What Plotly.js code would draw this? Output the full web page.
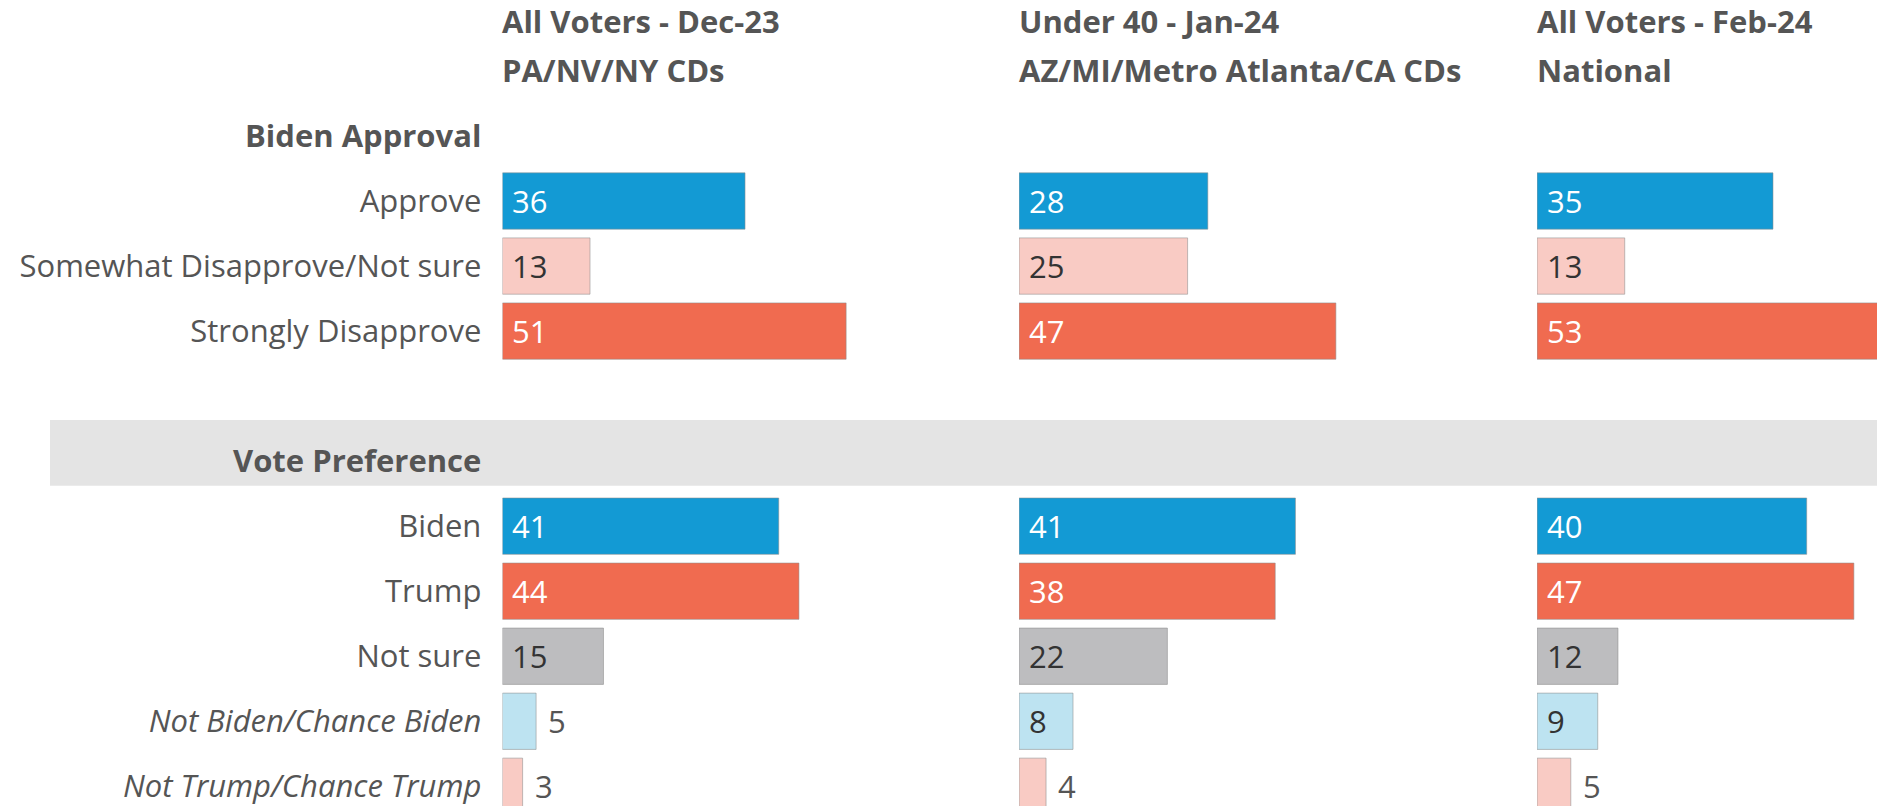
<!DOCTYPE html>
<html>
<head>
<meta charset="utf-8">
<script src="https://cdn.plot.ly/plotly-3.0.1.min.js"></script>
<style>html,body{margin:0;padding:0;background:#fff;}#chart{width:1877px;height:806px;}</style>
</head>
<body>
<div id="chart"></div>
<script>
// ---- data ----
const rowLabels = ["Biden Approval", "Approve", "Somewhat Disapprove/Not sure", "Strongly Disapprove", " ",
                   "Vote Preference", "Biden", "Trump", "Not sure", "Not Biden/Chance Biden", "Not Trump/Chance Trump"];
const sectionHeaders = ["Biden Approval", "Vote Preference"];
const italicRows = ["Not Biden/Chance Biden", "Not Trump/Chance Trump"];
const itemCategories = ["Approve", "Somewhat Disapprove/Not sure", "Strongly Disapprove",
                        "Biden", "Trump", "Not sure", "Not Biden/Chance Biden", "Not Trump/Chance Trump"];
const colTitles1 = ["All Voters - Dec-23", "Under 40 - Jan-24", "All Voters - Feb-24"];
const colTitles2 = ["PA/NV/NY CDs", "AZ/MI/Metro Atlanta/CA CDs", "National"];
const dec23 = [36, 13, 51, 41, 44, 15, 5, 3];
const jan24 = [28, 25, 47, 41, 38, 22, 8, 4];
const feb24 = [35, 13, 53, 40, 47, 12, 9, 5];

// ---- styles ----
const BLUE = "#139ad4", LPINK = "#f9cbc4", RED = "#f06b50", GREY = "#bdbdbf", LBLUE = "#bde3f1";
const barColors = [BLUE, LPINK, RED, BLUE, RED, GREY, LBLUE, LPINK];
const labelColors = ["#ffffff", "#333333", "#ffffff", "#ffffff", "#ffffff", "#333333", "#333333", "#333333"];
const TEXT = "#555555";
const FONT = "'Open Sans', sans-serif";
const FS = 31;

const W = 1877, H = 806;
const pxPerUnit = 6.74;
const colStart = [502.4, 1019.1, 1537.1];
const colEnd = [1019.1, 1537.1, W];

const series = [dec23, jan24, feb24];
const axNames = ["x", "x2", "x3"];
const traces = series.map((vals, i) => ({
  type: "bar", orientation: "h",
  x: vals, y: itemCategories,
  xaxis: axNames[i], yaxis: "y",
  width: 0.866,
  marker: {color: barColors, line: {color: "rgba(140,140,140,0.55)", width: 1}},
  hoverinfo: "none", showlegend: false
}));

const annotations = [];
series.forEach((vals, i) => {
  vals.forEach((v, j) => {
    const outside = v < 6;
    annotations.push({
      xref: axNames[i], yref: "y", x: outside ? v : 0, y: itemCategories[j],
      xanchor: "left", yanchor: "middle", xshift: outside ? 10 : 8, showarrow: false,
      text: String(v), font: {family: FONT, size: FS, color: outside ? TEXT : labelColors[j]}
    });
  });
  annotations.push({xref: axNames[i], yref: "paper", x: 0, y: 1 - 20.5 / H, xanchor: "left", yanchor: "middle",
    xshift: -2, showarrow: false, text: "<b>" + colTitles1[i] + "</b>", font: {family: FONT, size: FS, color: TEXT}});
  annotations.push({xref: axNames[i], yref: "paper", x: 0, y: 1 - 70.4 / H, xanchor: "left", yanchor: "middle",
    xshift: -2, showarrow: false, text: "<b>" + colTitles2[i] + "</b>", font: {family: FONT, size: FS, color: TEXT}});
});

const tickText = rowLabels.map(r => sectionHeaders.includes(r) ? "<b>" + r + "</b>" :
                                    italicRows.includes(r) ? "<i>" + r + "</i>" : r);

const xax = (i) => ({
  domain: [colStart[i] / W, colEnd[i] / W],
  range: [0, (colEnd[i] - colStart[i]) / pxPerUnit],
  showgrid: false, zeroline: false, showline: false, showticklabels: false, ticks: "",
  fixedrange: true
});

const layout = {
  width: W, height: H,
  margin: {l: 0, r: 0, t: 0, b: 0, pad: 0},
  paper_bgcolor: "#ffffff", plot_bgcolor: "rgba(0,0,0,0)",
  font: {family: FONT, size: FS, color: TEXT},
  xaxis: xax(0), xaxis2: xax(1), xaxis3: xax(2),
  yaxis: {
    anchor: "x", type: "category", categoryorder: "array", categoryarray: rowLabels,
    tickvals: rowLabels, ticktext: tickText,
    range: [10.303, -2.091], autorange: false,
    showgrid: false, zeroline: false, showline: false, ticks: "", ticklabelstandoff: 20,
    tickfont: {family: FONT, size: FS, color: TEXT}, fixedrange: true
  },
  shapes: [{
    type: "rect", xref: "paper", yref: "paper", layer: "below",
    x0: 50 / W, x1: 1, y0: 1 - 420 / H, y1: 1 - 485.7 / H,
    fillcolor: "#e4e4e4", line: {width: 0}
  }],
  annotations: annotations,
  bargap: 0
};

Plotly.newPlot("chart", traces, layout, {displayModeBar: false, staticPlot: true});
</script>
</body>
</html>
